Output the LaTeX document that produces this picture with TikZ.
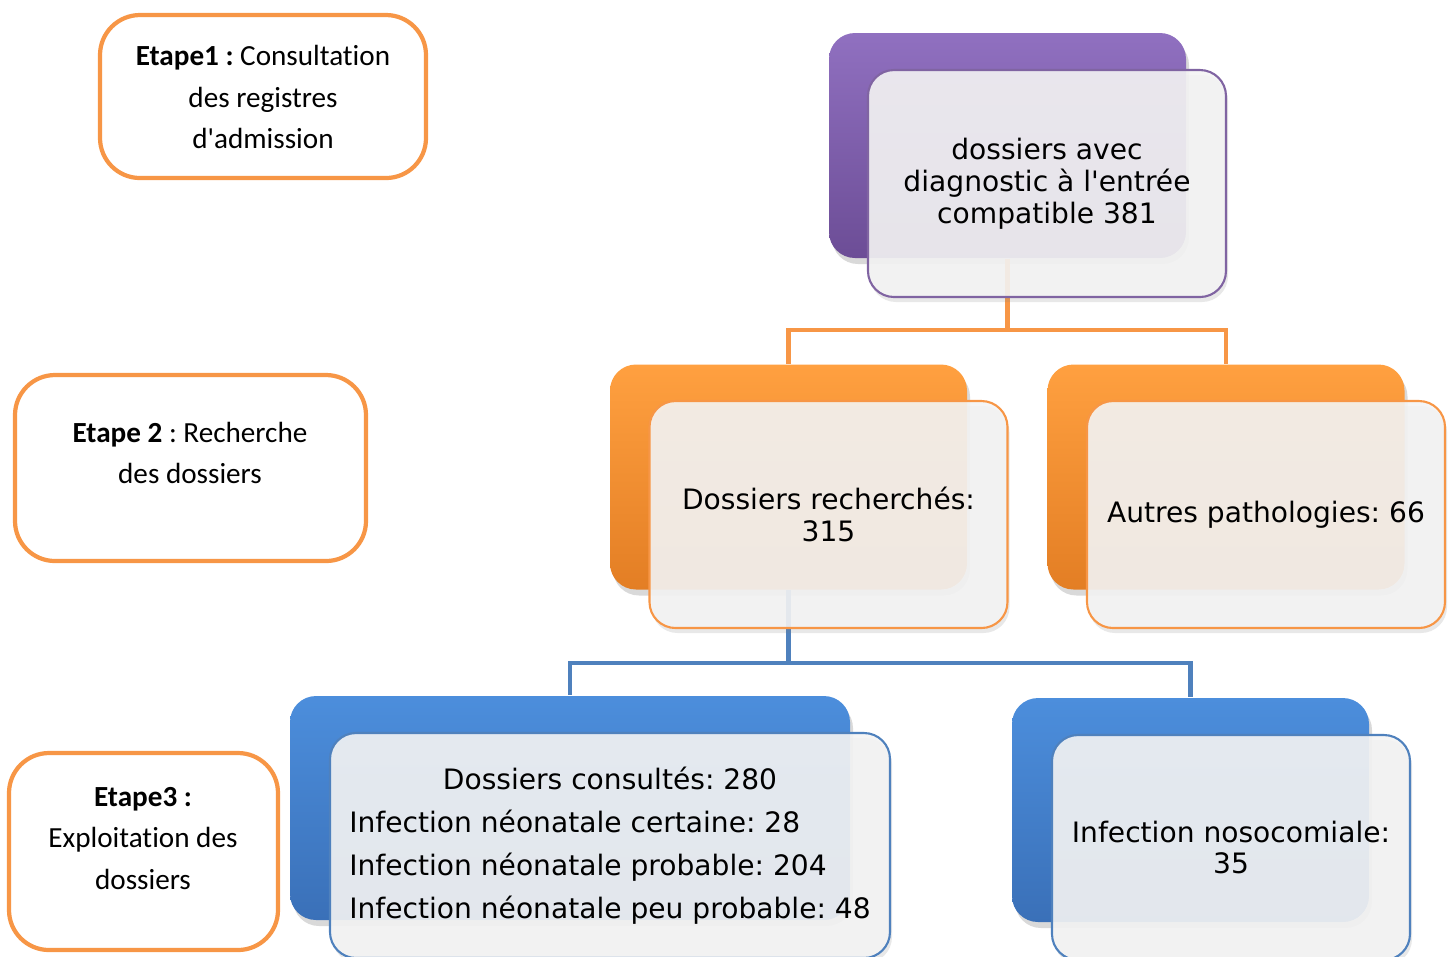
\documentclass[tikz,border=0pt]{standalone}
\usepackage{fontspec}
\setmainfont{DejaVu Sans}
\newfontfamily\calibri{Carlito}[Ligatures=NoCommon]
\usetikzlibrary{shadows}
\frenchspacing

\definecolor{violethaut}{HTML}{9070C0}
\definecolor{violetmilieu}{HTML}{8461AF}
\definecolor{violetbas}{HTML}{6C4D96}
\definecolor{violettrait}{HTML}{8064A2}
\definecolor{orangehaut}{HTML}{FFA040}
\definecolor{orangemilieu}{HTML}{F8962F}
\definecolor{orangebas}{HTML}{E37E24}
\definecolor{orangetrait}{HTML}{F79646}
\definecolor{bleuhaut}{HTML}{4C8EDC}
\definecolor{bleumilieu}{HTML}{4483D1}
\definecolor{bleubas}{HTML}{3A70B8}
\definecolor{bleutrait}{HTML}{4F81BD}
\definecolor{cartegris}{HTML}{F4F4F4}

\begin{document}
\begin{tikzpicture}[x=0.1mm,y=-0.1mm,
  fond/.style={rounded corners=2.6mm, minimum width=35.7mm, minimum height=22.5mm,
    drop shadow={opacity=0.3,shadow xshift=0.3mm,shadow yshift=-0.6mm}},
  carte/.style={rounded corners=2.6mm, draw=#1, line width=0.6pt, fill=cartegris,
    fill opacity=0.9, text opacity=1, minimum width=35.8mm, minimum height=22.7mm,
    align=center, font=\fontsize{8}{9.1}\selectfont,
    drop shadow={opacity=0.18,shadow xshift=0.2mm,shadow yshift=-0.5mm}},
  etape/.style={draw=orangetrait, line width=1.2pt, rounded corners=4mm, fill=white},
  etapetexte/.style={align=center, font=\calibri\fontsize{8.3}{11.7}\selectfont},
  lien/.style={line width=1.4pt}
]
\useasboundingbox (0,0) rectangle (1450,956);

% Boites du fond
\node[fond, top color=violethaut, middle color=violetmilieu, bottom color=violetbas] (fond1) at (1007.5,145.5) {};
\node[fond, top color=orangehaut, middle color=orangemilieu, bottom color=orangebas] (fond2) at (788.5,477) {};
\node[fond, top color=orangehaut, middle color=orangemilieu, bottom color=orangebas] (fond3) at (1226,477) {};
\node[fond, top color=bleuhaut, middle color=bleumilieu, bottom color=bleubas, minimum width=56mm, minimum height=22.4mm] (fond4) at (570,808) {};
\node[fond, top color=bleuhaut, middle color=bleumilieu, bottom color=bleubas, minimum height=22.4mm] (fond5) at (1190.5,810) {};

% Liens
\coordinate (b1) at (1007.5,330);
\draw[lien, orangetrait] (fond1.south) -- (b1) -| (fond2.north);
\draw[lien, orangetrait] (b1) -| (fond3.north);
\coordinate (b2) at (788.5,663);
\draw[lien, bleutrait] (fond2.south) -- (b2) -| (fond4.north);
\draw[lien, bleutrait] (b2) -| (fond5.north);

% Cartes avec le texte
\node[carte=violettrait] (carte1) at (1047,183.5) {dossiers avec\\diagnostic à l\textquotesingle entrée\\compatible 381};
\node[carte=orangetrait] (carte2) at (828.5,514.5) {Dossiers recherchés:\\315};
\node[carte=orangetrait] (carte3) at (1266,514.5) {Autres pathologies: 66};
\node[carte=bleutrait, minimum width=56mm, minimum height=22.5mm, font=\fontsize{8}{12.2}\selectfont] (carte4) at (610,845.5)
  {\begin{tabular}{@{}l@{}}
   \multicolumn{1}{@{}c@{}}{Dossiers consultés: 280}\\
   Infection néonatale certaine: 28\\
   Infection néonatale probable: 204\\
   Infection néonatale peu probable: 48
   \end{tabular}};
\node[carte=bleutrait, minimum height=22.5mm] (carte5) at (1231,847.5) {Infection nosocomiale:\\35};

% Etapes
\node[etape, minimum width=32.6mm, minimum height=16.3mm] (etape1) at (263,96.5) {};
\node[etapetexte] (texte1) at (263,97) {\textbf{Etape1 :} Consultation\\des registres\\d\textquotesingle admission};
\node[etape, minimum width=35.1mm, minimum height=18.6mm] (etape2) at (190.5,468) {};
\node[etapetexte] (texte2) at (190,453) {\textbf{Etape 2} : Recherche\\des dossiers};
\node[etape, minimum width=26.9mm, minimum height=19.7mm] (etape3) at (143.5,851.5) {};
\node[etapetexte] (texte3) at (143,838.5) {\textbf{Etape3 :}\\Exploitation des\\dossiers};
\end{tikzpicture}
\end{document}
